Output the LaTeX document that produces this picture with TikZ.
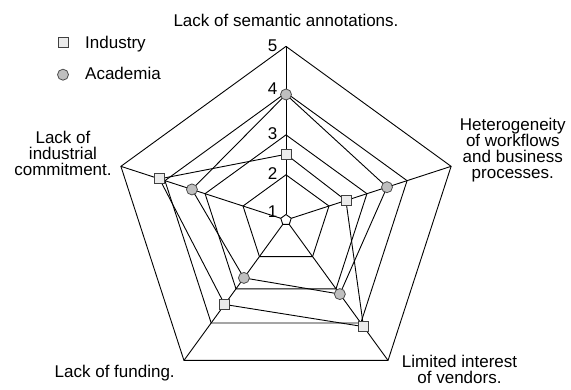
\documentclass[tikz,border=0pt]{standalone}
\usepackage{fontspec}
\setmainfont{Liberation Sans}
\usetikzlibrary{backgrounds}
\lineskiplimit=-8pt
\begin{document}
\begin{tikzpicture}[x=1pt,y=1pt,
  lbl/.style={font=\fontsize{17}{16}\selectfont, inner sep=0pt, align=center},
  gridline/.style={black, line width=0.9pt, line join=miter},
  series/.style={black, line width=0.9pt},
  sq/.style={rectangle, draw=black!75, fill=black!8, line width=0.8pt, minimum size=10pt, inner sep=0pt},
  dot/.style={circle, draw=black!70, fill=black!25, line width=0.8pt, minimum size=11pt, inner sep=0pt}]
\useasboundingbox (0,0) rectangle (571,390);

% axis labels
\node[lbl, anchor=base] (tsem) at (286,363.3) {Lack of semantic annotations.};
\node[lbl, anchor=north] (thet) at (512.8,271.7) {Heterogeneity\\of workflows\\and business\\processes.};
\node[lbl, anchor=north] (tlim) at (459.5,35) {Limited interest\\of vendors.};
\node[lbl, anchor=base] (tfun) at (114.7,12.7) {Lack of funding.};
\node[lbl, anchor=north] (tcom) at (63,259.3) {Lack of\\industrial\\commitment.};

% legend
\node[sq] (lg1) at (63,347.5) {};
\node[lbl, anchor=base west] (lt1) at (85,341.7) {Industry};
\node[dot] (lg2) at (63,315.3) {};
\node[lbl, anchor=base west] (lt2) at (85,310.7) {Academia};

% scale numbers
\node[lbl, anchor=base east] (n5) at (277.5,338.3) {5};
\node[lbl, anchor=base east] (n4) at (277.5,295) {4};
\node[lbl, anchor=base east] (n3) at (277.5,250) {3};
\node[lbl, anchor=base east] (n2) at (277.5,210) {2};
\node[lbl, anchor=base east] (n1) at (277.5,172) {1};

\begin{scope}[shift={(286,170)}]
  % data markers
  \node[sq] (i1) at (90:65.7) {};
  \node[sq] (i2) at (18:63) {};
  \node[sq] (i3) at (-54:131.8) {};
  \node[sq] (i4) at (-126:104.4) {};
  \node[sq] (i5) at (162:133) {};
  \node[dot] (a1) at (90:125.5) {};
  \node[dot] (a2) at (18:106.2) {};
  \node[dot] (a3) at (-54:91.6) {};
  \node[dot] (a4) at (-126:71.6) {};
  \node[dot] (a5) at (162:98.9) {};
  \begin{pgfonlayer}{background}
    \foreach \r in {5.5,45.2,85.1,127.3,173.6}
      \draw[gridline] (90:\r) -- (18:\r) -- (-54:\r) -- (-126:\r) -- (162:\r) -- cycle;
    \foreach \a [count=\k] in {90,18,-54,-126,162} {
      \coordinate (u\k) at (\a:5.5);
      \coordinate (v\k) at (\a:173.6);
    }
    \foreach \k in {1,...,5}
      \draw[gridline] (u\k) -- (v\k);
    \draw[series] (i1.center) -- (i2.center) -- (i3.center) -- (i4.center) -- (i5.center) -- cycle;
    \draw[series] (a1.center) -- (a2.center) -- (a3.center) -- (a4.center) -- (a5.center) -- cycle;
  \end{pgfonlayer}
\end{scope}
\end{tikzpicture}
\end{document}
